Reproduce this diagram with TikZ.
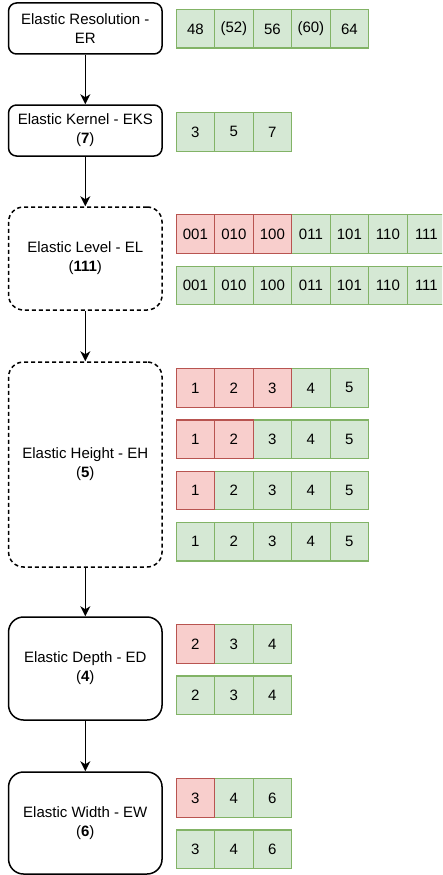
\documentclass[tikz,border=0pt]{standalone}
\usepackage{fontspec}
\setmainfont{Liberation Sans}
\usetikzlibrary{arrows.meta}
\definecolor{gfill}{HTML}{D5E8D4}
\definecolor{gline}{HTML}{82B366}
\definecolor{rfill}{HTML}{F8CECC}
\definecolor{rline}{HTML}{B85450}
\begin{document}
\begin{tikzpicture}[x=1pt,y=-1pt,
  stage/.style={draw, line width=1.5pt, inner sep=0pt, align=center,
    minimum width=153.5pt, font=\fontsize{15}{19}\selectfont},
  solidstage/.style={stage},
  dashstage/.style={stage, dash pattern=on 4pt off 3pt},
  cellbase/.style={draw, line width=1.3pt, inner sep=0pt, anchor=north west,
    minimum width=38.5pt, minimum height=38.5pt, font=\fontsize{15}{18}\selectfont},
  gcell/.style={cellbase, fill=gfill, draw=gline},
  rcell/.style={cellbase, fill=rfill, draw=rline},
  arr/.style={line width=1.5pt, -{Stealth[length=10pt, width=10pt, inset=3pt]}}
]
\useasboundingbox (0,0) rectangle (442,875);
\clip (0,0) rectangle (442,875);

% stages
\node[solidstage, rounded corners=8pt, minimum height=51pt] (ER) at (85.3,28.5) {Elastic Resolution -\\ER};
\node[solidstage, rounded corners=8pt, minimum height=51pt] (EKS) at (85.3,130.5) {Elastic Kernel - EKS\\(\textbf{7})};
\node[dashstage, rounded corners=15pt, minimum height=103pt] (EL) at (85.3,258.5) {Elastic Level - EL\\(\textbf{111})};
\node[dashstage, rounded corners=15pt, minimum height=205pt] (EH) at (85.3,464.5) {Elastic Height - EH\\(\textbf{5})};
\node[solidstage, rounded corners=15pt, minimum height=103pt] (ED) at (85.3,668.5) {Elastic Depth - ED\\(\textbf{4})};
\node[solidstage, rounded corners=15pt, minimum height=102pt] (EW) at (85.3,823) {Elastic Width - EW\\(\textbf{6})};

% arrows
\draw[arr] (ER.south) -- (EKS.north);
\draw[arr] (EKS.south) -- (EL.north);
\draw[arr] (EL.south) -- (EH.north);
\draw[arr] (EH.south) -- (ED.north);
\draw[arr] (ED.south) -- (EW.north);

% cells: \i = column, \t = text, \s = style
\newcommand\cellrow[3]{%
  \foreach \i/\t/\s in {#3} {
    \node[\s] (#1-\i) at ({175.5+\i*38.5}, #2) {\t};
  }}

\cellrow{er}{9}{0/48/gcell,1/(52)/gcell,2/56/gcell,3/(60)/gcell,4/64/gcell}
\cellrow{eks}{112}{0/3/gcell,1/5/gcell,2/7/gcell}

\cellrow{elA}{214}{3/011/gcell,4/101/gcell,5/110/gcell,6/111/gcell,0/001/rcell,1/010/rcell,2/100/rcell}
\cellrow{elB}{265.5}{0/001/gcell,1/010/gcell,2/100/gcell,3/011/gcell,4/101/gcell,5/110/gcell,6/111/gcell}

\cellrow{ehA}{368}{3/4/gcell,4/5/gcell,0/1/rcell,1/2/rcell,2/3/rcell}
\cellrow{ehB}{419.3}{2/3/gcell,3/4/gcell,4/5/gcell,0/1/rcell,1/2/rcell}
\cellrow{ehC}{470.5}{1/2/gcell,2/3/gcell,3/4/gcell,4/5/gcell,0/1/rcell}
\cellrow{ehD}{521.7}{0/1/gcell,1/2/gcell,2/3/gcell,3/4/gcell,4/5/gcell}

\cellrow{edA}{624}{1/3/gcell,2/4/gcell,0/2/rcell}
\cellrow{edB}{675.3}{0/2/gcell,1/3/gcell,2/4/gcell}

\cellrow{ewA}{778}{1/4/gcell,2/6/gcell,0/3/rcell}
\cellrow{ewB}{829.3}{0/3/gcell,1/4/gcell,2/6/gcell}
\end{tikzpicture}
\end{document}
